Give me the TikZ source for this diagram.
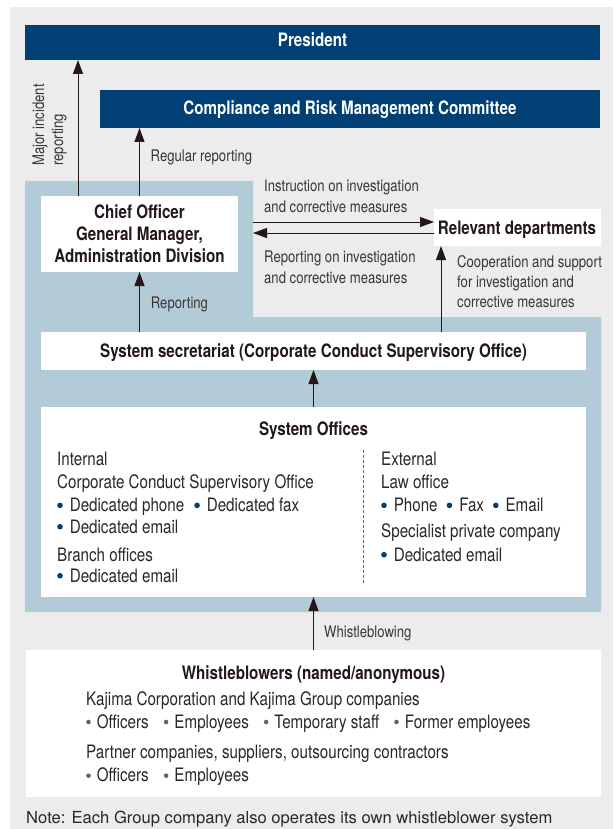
\documentclass[tikz,border=0pt]{standalone}
\usepackage{fontspec}
\setmainfont{TeX Gyre Heros}[FakeStretch=0.82]
\newfontfamily\notefont{TeX Gyre Heros}
\usetikzlibrary{arrows.meta}
\definecolor{navy}{RGB}{0,64,117}
\definecolor{bluereg}{RGB}{178,203,215}
\definecolor{bggray}{RGB}{236,236,236}
\definecolor{txt}{RGB}{35,24,21}
\definecolor{lbl}{RGB}{55,55,55}
\definecolor{bodyc}{RGB}{40,40,40}
\definecolor{dotgray}{RGB}{100,100,100}
\newcommand{\nb}{\tikz[baseline=0pt]\fill[navy] (2.8pt,6.3pt) circle[radius=2.8pt];\hspace{7pt}}
\newcommand{\gb}{\tikz[baseline=0pt]\fill[dotgray] (2.3pt,6pt) circle[radius=2.3pt];\hspace{6pt}}
\begin{document}
\begin{tikzpicture}[x=1pt,y=-1pt,
  navybox/.style={fill=navy, inner sep=0pt, outer sep=0pt},
  whitebox/.style={fill=white, inner sep=0pt, outer sep=0pt},
  navytext/.style={text=white, font=\bfseries\fontsize{18.5}{22}\selectfont, inner sep=0pt, anchor=base},
  boxtitle/.style={text=txt, font=\bfseries\fontsize{18.5}{22}\selectfont, inner sep=0pt, anchor=base},
  lab/.style={text=lbl, font=\fontsize{16}{20}\selectfont, inner sep=0pt, anchor=base west},
  body/.style={text=bodyc, font=\fontsize{18.5}{22}\selectfont, inner sep=0pt, anchor=base west},
  arr/.style={draw=txt, line width=1pt, -{Triangle[length=14pt,width=10pt]}}
]
\useasboundingbox (0,0) rectangle (613,829);
\fill[bggray] (10,7) rectangle (613,829);
\fill[bluereg] (25,181) -- (253,181) -- (253,317) -- (601,317) -- (601,612) -- (25,612) -- cycle;

% boxes
\node[navybox, minimum width=575pt, minimum height=35pt] (president) at (312.5,42.5) {};
\node[navybox, minimum width=500pt, minimum height=38pt] (committee) at (350,109) {};
\node[whitebox, minimum width=197pt, minimum height=76pt] (chief) at (139.5,234) {};
\node[whitebox, minimum width=167pt, minimum height=37pt] (reldep) at (517.5,227.5) {};
\node[whitebox, minimum width=545pt, minimum height=38pt] (sec) at (313.5,351) {};
\node[whitebox, minimum width=545pt, minimum height=190pt] (sysoff) at (313.5,502) {};
\node[whitebox, minimum width=575pt, minimum height=147pt] (wb) at (313.5,723.5) {};

% box texts
\node[navytext] (tpres) at (312.5,46.7) {President};
\node[navytext] (tcomm) at (350,114.5) {Compliance and Risk Management Committee};
\node[boxtitle] (tchief1) at (139.5,218.3) {Chief Officer};
\node[boxtitle] (tchief2) at (139.5,240.5) {General Manager,};
\node[boxtitle] (tchief3) at (139.5,262.7) {Administration Division};
\node[boxtitle] (treldep) at (517,234) {Relevant departments};
\node[boxtitle] (tsec) at (313.5,357) {System secretariat (Corporate Conduct Supervisory Office)};
\node[boxtitle] (tsys) at (313.5,435) {System Offices};
\node[boxtitle] (twb) at (313.5,679) {Whistleblowers (named/anonymous)};

% system offices contents
\node[body] (in1) at (57,465) {Internal};
\node[body] (in2) at (57,488) {Corporate Conduct Supervisory Office};
\node[body] (in3) at (57,511.7) {\nb Dedicated phone\hspace{10pt}\nb Dedicated fax};
\node[body] (in4) at (57,533) {\nb Dedicated email};
\node[body] (in5) at (57,561) {Branch offices};
\node[body] (in6) at (57,582) {\nb Dedicated email};
\node[body] (ex1) at (381,465) {External};
\node[body] (ex2) at (381,488) {Law office};
\node[body] (ex3) at (381,511.7) {\nb Phone\hspace{9pt}\nb Fax\hspace{9pt}\nb Email};
\node[body] (ex4) at (381,537) {Specialist private company};
\node[body] (ex5) at (381,561) {\nb Dedicated email};
\coordinate (dtop) at (363,450);
\coordinate (dbot) at (363,585);
\draw[dotgray, line width=0.8pt, dash pattern=on 3pt off 2pt] (dtop) -- (dbot);

% whistleblowers contents
\node[body] (w1) at (86,705) {Kajima Corporation and Kajima Group companies};
\node[body] (w2) at (86,728) {\gb Officers\hspace{15pt}\gb Employees\hspace{15pt}\gb Temporary staff\hspace{15pt}\gb Former employees};
\node[body] (w3) at (86,758) {Partner companies, suppliers, outsourcing contractors};
\node[body] (w4) at (86,781.7) {\gb Officers\hspace{15pt}\gb Employees};

% note
\node[text=bodyc, font=\notefont\fontsize{16.6}{20}\selectfont, inner sep=0pt, anchor=base west] (note) at (26,823) {Note: Each Group company also operates its own whistleblower system};

% connectors
\coordinate (xmi) at (78,0);
\coordinate (xco) at (441,0);
\draw[arr] (chief.north -| xmi) -- (president.south -| xmi);
\draw[arr] (chief.north) -- (chief.north |- committee.south);
\draw[arr] (sec.north -| chief.north) -- (chief.south);
\draw[arr] (sec.north -| xco) -- (reldep.south -| xco);
\coordinate (ins) at (253,222);
\coordinate (rep) at (253,233);
\draw[arr] (ins) -- (ins -| reldep.west);
\draw[arr] (rep -| reldep.west) -- (rep);
\draw[arr] (sysoff.north) -- (sec.south);
\draw[arr] (wb.north) -- (sysoff.south);

% labels
\node[lab, rotate=90] (mi1) at (44,166) {Major incident};
\node[lab, rotate=90] (mi2) at (63,166) {reporting};
\node[lab] (lreg) at (150.5,161) {Regular reporting};
\node[lab] (lins1) at (264,192) {Instruction on investigation};
\node[lab] (lins2) at (264,212) {and corrective measures};
\node[lab] (lrep1) at (264,262) {Reporting on investigation};
\node[lab] (lrep2) at (264,283) {and corrective measures};
\node[lab] (lco1) at (457,267) {Cooperation and support};
\node[lab] (lco2) at (457,287.3) {for investigation and};
\node[lab] (lco3) at (457,307.7) {corrective measures};
\node[lab] (lrepo) at (150.7,308) {Reporting};
\node[lab] (lwh) at (324,637) {Whistleblowing};
\end{tikzpicture}
\end{document}
